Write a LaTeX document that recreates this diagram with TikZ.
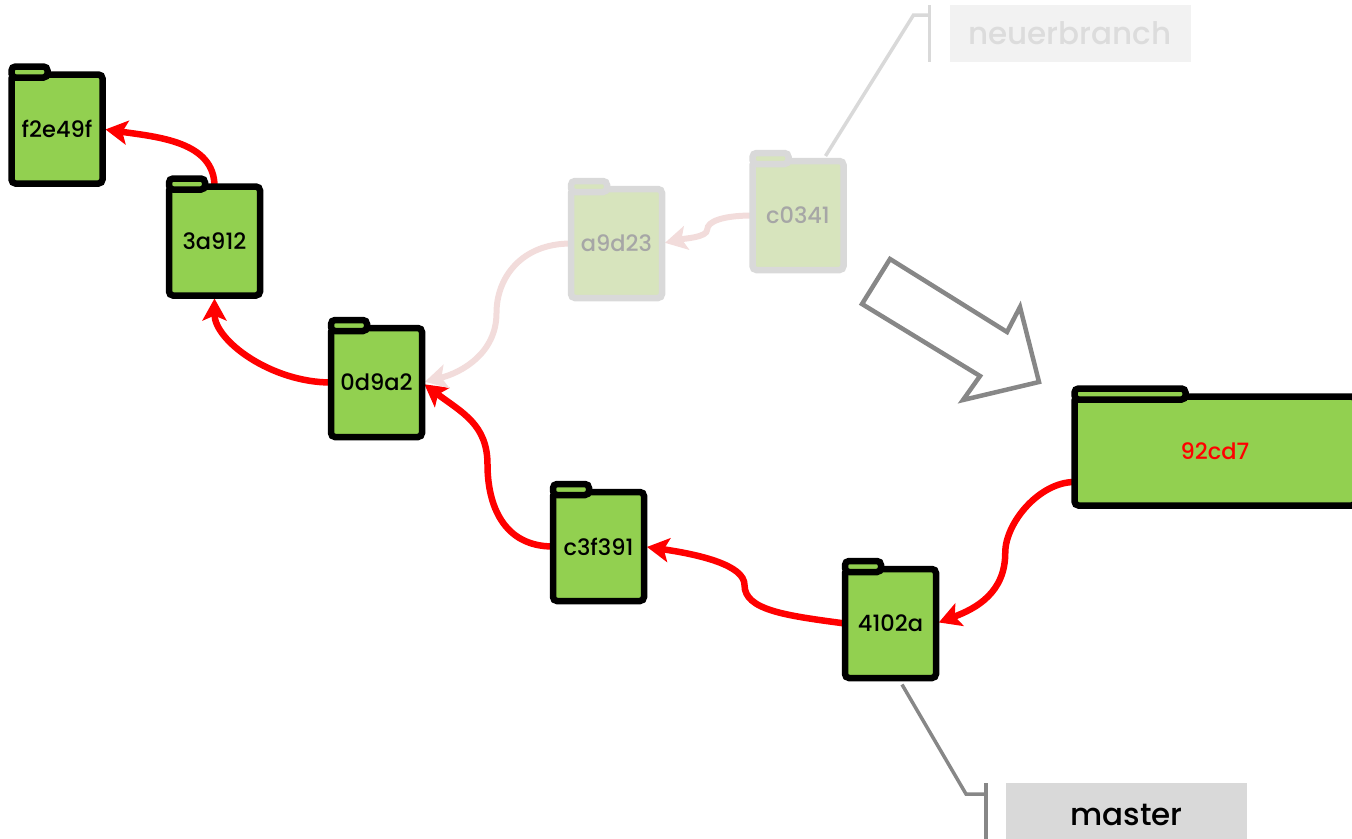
\documentclass[tikz,border=0pt]{standalone}
\usepackage{fontspec}
\setmainfont{Poppins}[UprightFont=* Medium]
\usetikzlibrary{arrows.meta,calc}
\definecolor{fgreen}{HTML}{92D050}
\definecolor{fgreenpale}{HTML}{D7E4BD}
\definecolor{paleborder}{HTML}{D9D9D9}
\definecolor{paletext}{HTML}{A6A6A6}
\definecolor{palearrow}{HTML}{F2DCDB}
\definecolor{arrowred}{HTML}{FF0000}
\definecolor{midgray}{HTML}{878787}
\definecolor{boxmaster}{HTML}{D9D9D9}
\definecolor{boxneuer}{HTML}{F2F2F2}
\definecolor{textneuer}{HTML}{DCDCDC}
\pgfdeclarelayer{bg}
\pgfsetlayers{bg,main}
\newcommand\commitnode[5]{%
  \node[#1] (#2) at (#3) {#4};
  \draw[#1tab] ($(#2.north west)+(0,8)$) rectangle ($(#2.north west)+(#5,-3)$);
}
\begin{document}
\begin{tikzpicture}[x=1pt,y=1pt,
  commit/.style={draw=black, fill=fgreen, line width=6.5pt, rounded corners=4pt,
    minimum width=91pt, minimum height=109pt, inner sep=0pt, outer sep=0pt,
    font=\fontsize{22.5}{22.5}\selectfont, text=black},
  committab/.style={draw=black, fill=fgreen, line width=6.5pt, rounded corners=4pt},
  ghost/.style={commit, draw=paleborder, fill=fgreenpale, text=paletext},
  ghosttab/.style={committab, draw=paleborder, fill=fgreenpale},
  parent/.style={draw=arrowred, line width=6.5pt, shorten >=3pt,
    -{Stealth[length=22pt,width=24pt,inset=5pt]}},
  ghostparent/.style={parent, draw=palearrow, line width=6pt},
  branchbox/.style={inner sep=0pt, outer sep=0pt, minimum width=241pt, font=\fontsize{31}{31}\selectfont},
  masterline/.style={draw=midgray, line width=3.5pt},
  neuerline/.style={draw=paleborder, line width=3.5pt},
]
\useasboundingbox (0,0) rectangle (1352,-838);
\clip (0,0) rectangle (1352,-838);

% ghost commits
\commitnode{ghost}{g1}{616.5,-243.5}{a9d23}{36}
\commitnode{ghost}{g2}{798,-215.5}{c0341}{36}

% commits
\commitnode{commit}{f1}{57,-129}{f2e49f}{36}
\commitnode{commit}{f2}{214.5,-241}{3a912}{36}
\commitnode{commit}{f3}{376.5,-382.5}{0d9a2}{36}
\commitnode{commit}{f4}{598.5,-546.5}{c3f391}{36}
\commitnode{commit}{f5}{890.5,-623.5}{4102a}{36}
\node[commit, minimum width=281pt, text=arrowred] (f6) at (1215,-451) {92cd7};
\draw[committab] ($(f6.north west)+(0,8)$) rectangle ($(f6.north west)+(111,-3)$);

% branch labels
\node[branchbox, fill=boxneuer, text=textneuer, minimum height=57pt] (nb) at (1070,-33.5) {neuerbranch};
\node[branchbox, fill=boxmaster, text=black, minimum height=64pt] (ms) at (1126.5,-815) {master};

\coordinate (nbBend) at ($(nb.north west)+(-36,-10)$);
\coordinate (nbBar) at ($(nb.north west)+(-20,-10)$);
\draw[neuerline] ($(g2.north east)+(-18,5)$) -- (nbBend) -- (nbBar);
\draw[neuerline] ($(nb.north west)+(-20,0)$) -- ($(nb.south west)+(-20,0)$);

\coordinate (msBend) at ($(ms.north west)+(-40,-11)$);
\coordinate (msBar) at ($(ms.north west)+(-20,-11)$);
\draw[masterline] ($(f5.south)+(11.5,-6.5)$) -- (msBend) -- (msBar);
\draw[masterline] ($(ms.north west)+(-20,0)$) -- ($(ms.south west)+(-20,0)$);

% big hollow arrow
\draw[line width=4.5pt, draw=midgray, line join=miter]
  (890,-259) -- (1007,-332) -- (1020,-307) -- (1039,-382) -- (963,-400) -- (980,-376) -- (862,-304) -- cycle;

\begin{pgfonlayer}{bg}
% parent arrows
\draw[parent] (f2.north) .. controls ($(f2.north)+(0,45)$) and ($(f1.east)+(55,-8)$) .. (f1.east);
\draw[parent] (f3.west) .. controls ($(f3.west)+(-60,0)$) and ($(f2.south)+(0,-45)$) .. (f2.south);
\coordinate (m3) at ($(f4.west)!0.5!(f3.east)$);
\draw[parent] (f4.west) .. controls ($(f4.west)+(-50,0)$) and ($(m3)+(0,-40)$) .. (m3)
  .. controls ($(m3)+(0,40)$) and ($(f3.east)+(40,-30)$) .. (f3.east);
\coordinate (m4) at ($(f5.west)!0.5!(f4.east)$);
\draw[parent] (f5.west) .. controls ($(f5.west)+(-60,8)$) and ($(m4)+(0,-25)$) .. (m4)
  .. controls ($(m4)+(0,20)$) and ($(f4.east)+(55,-8)$) .. (f4.east);
\coordinate (s5) at ($(f6.west)+(0,-31)$);
\coordinate (m5) at ($(s5)!0.5!(f5.east)$);
\draw[parent] (s5) .. controls ($(s5)+(-35,0)$) and ($(m5)+(0,30)$) .. (m5)
  .. controls ($(m5)+(0,-40)$) and ($(f5.east)+(40,15)$) .. (f5.east);
% ghost arrows
\coordinate (ma) at ($(g2.west)!0.5!(g1.east)$);
\draw[ghostparent] (g2.west) .. controls ($(g2.west)+(-30,0)$) and ($(ma)+(0,8)$) .. (ma)
  .. controls ($(ma)+(0,-8)$) and ($(g1.east)+(22,5)$) .. (g1.east);
\coordinate (mb) at ($(g1.west)!0.5!(f3.east)$);
\draw[ghostparent] (g1.west) .. controls ($(g1.west)+(-50,0)$) and ($(mb)+(0,35)$) .. (mb)
  .. controls ($(mb)+(0,-40)$) and ($(f3.east)+(40,10)$) .. (f3.east);
\end{pgfonlayer}
\end{tikzpicture}
\end{document}
